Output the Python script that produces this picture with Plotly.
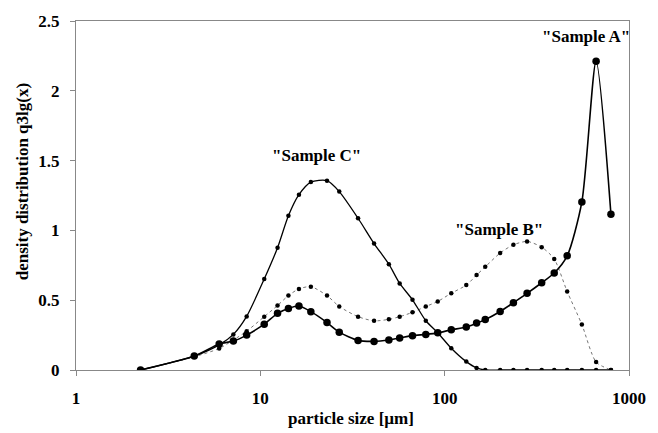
import plotly.graph_objects as go

# particle size classes [µm]
size_um = [2.24, 4.38, 5.98, 7.14, 8.43, 10.5, 12.4, 14.2, 16.2, 18.8, 23.0, 26.8,
           33.9, 41.4, 49.8, 57.0, 66.9, 79.0, 91.7, 108.6, 131, 149, 166, 200,
           236, 280, 336, 393, 462, 555, 663, 798]

sample_a = [0.0, 0.10, 0.186, 0.207, 0.25, 0.328, 0.406, 0.441, 0.458, 0.418, 0.34, 0.271,
            0.212, 0.205, 0.215, 0.229, 0.246, 0.255, 0.266, 0.288, 0.308, 0.336, 0.361, 0.419,
            0.482, 0.549, 0.625, 0.695, 0.818, 1.204, 2.212, 1.115]

sample_b = [0.0, 0.095, 0.154, 0.215, 0.278, 0.382, 0.462, 0.533, 0.581, 0.597, 0.533, 0.455,
            0.382, 0.352, 0.363, 0.382, 0.413, 0.455, 0.491, 0.55, 0.608, 0.68, 0.739, 0.838,
            0.897, 0.921, 0.88, 0.795, 0.562, 0.326, 0.057, 0.0]

sample_c = [0.0, 0.10, 0.18, 0.255, 0.384, 0.652, 0.876, 1.105, 1.256, 1.346, 1.356, 1.278,
            1.087, 0.906, 0.758, 0.62, 0.503, 0.353, 0.267, 0.156, 0.06, 0.015, 0.0, 0.0,
            0.0, 0.0, 0.0, 0.0, 0.0, 0.0, 0.0, 0.0]

x_ticks = [1, 10, 100, 1000]
x_tick_labels = ["1", "10", "100", "1000"]
y_ticks = [0, 0.5, 1, 1.5, 2, 2.5]
y_tick_labels = ["0", "0.5", "1", "1.5", "2", "2.5"]

FONT = "Liberation Serif"
W, H = 658, 433
L, R, T, B = 76, 17, 17, 63
PW, PH = W - L - R, H - T - B

fig = go.Figure()
fig.add_trace(go.Scatter(
    x=size_um, y=sample_b, mode="lines+markers", name="Sample B",
    line=dict(color="#666666", width=0.9, dash="dot", shape="spline", smoothing=0.7),
    marker=dict(color="black", size=4.5)))
fig.add_trace(go.Scatter(
    x=size_um, y=sample_c, mode="lines+markers", name="Sample C",
    line=dict(color="black", width=1.3, shape="spline", smoothing=0.7),
    marker=dict(color="black", size=4.5)))
fig.add_trace(go.Scatter(
    x=size_um, y=sample_a, mode="lines+markers", name="Sample A",
    line=dict(color="black", width=1.6, shape="spline", smoothing=0.7),
    marker=dict(color="black", size=7.5)))

bold = dict(family=FONT, size=17, color="black", weight="bold")


def paper_x(px):
    return (px - L) / PW


def paper_y(py):
    return (H - B - py) / PH


for txt, px, py in [('"Sample A"', 597, 33), ('"Sample C"', 322, 153), ('"Sample B"', 508, 228)]:
    fig.add_annotation(x=paper_x(px), y=paper_y(py), xref="paper", yref="paper",
                       text=txt, showarrow=False, font=bold,
                       xanchor="center", yanchor="middle")

# axis titles
fig.add_annotation(x=paper_x(357), y=paper_y(419), xref="paper", yref="paper",
                   text="particle size [µm]", showarrow=False, font=bold,
                   xanchor="center", yanchor="middle")
fig.add_annotation(x=paper_x(21), y=paper_y(180), xref="paper", yref="paper",
                   text="density distribution q3lg(x)", showarrow=False, font=bold,
                   textangle=-90, xanchor="center", yanchor="middle")

fig.update_layout(
    width=W, height=H,
    margin=dict(l=L, r=R, t=T, b=B),
    plot_bgcolor="white", paper_bgcolor="white",
    showlegend=False,
    font=dict(family=FONT, size=17, color="black"),
)
fig.update_xaxes(
    type="log", range=[0, 3.0], tickvals=x_ticks, ticktext=x_tick_labels,
    showgrid=False, zeroline=False,
    showline=True, linecolor="#888888", linewidth=1, mirror=True,
    ticks="outside", ticklen=5, tickcolor="#888888",
    tickfont=bold, ticklabelstandoff=8,
)
fig.update_yaxes(
    range=[0, 2.5], tickvals=y_ticks, ticktext=y_tick_labels,
    showgrid=False, zeroline=False,
    showline=True, linecolor="#888888", linewidth=1, mirror=True,
    ticks="outside", ticklen=5, tickcolor="#888888",
    tickfont=bold, ticklabelstandoff=7,
)

fig.write_html("out.html")
